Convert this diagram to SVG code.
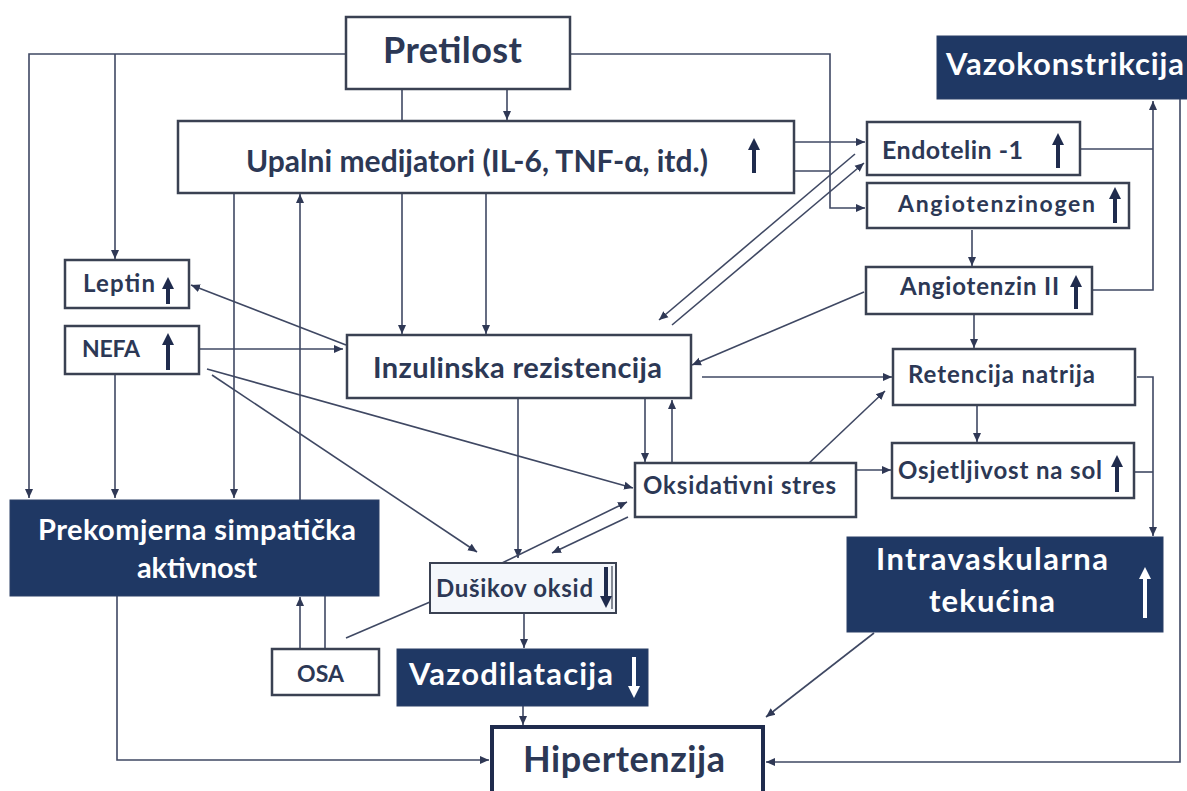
<svg xmlns="http://www.w3.org/2000/svg" width="1187" height="791" viewBox="0 0 1187 791">
<style>
.box{fill:#ffffff;stroke:#3a4152;stroke-width:2.5}
.dark{fill:#1f3864;stroke:#2a3f66;stroke-width:1}
.t{font-family:Lato,"Liberation Sans",sans-serif;font-weight:bold;fill:#2c3855}
.w{font-family:Lato,"Liberation Sans",sans-serif;font-weight:bold;fill:#ffffff}
.c{fill:none;stroke:#3f4863;stroke-width:1.6}
.a{marker-end:url(#ah)}
.up{stroke:#1f2b4d;stroke-width:4;fill:none;marker-end:url(#big)}
.upw{stroke:#ffffff;stroke-width:4;fill:none;marker-end:url(#bigw)}
</style>
<defs>
<marker id="ah" markerUnits="userSpaceOnUse" markerWidth="10" markerHeight="10" refX="9" refY="5" orient="auto"><path d="M0,1 L9,5 L0,9 Z" fill="#2f3855"/></marker>
<marker id="big" markerUnits="userSpaceOnUse" markerWidth="14" markerHeight="14" refX="4" refY="7" orient="auto"><path d="M0,1 L12,7 L0,13 Z" fill="#1f2b4d"/></marker>
<marker id="bigw" markerUnits="userSpaceOnUse" markerWidth="14" markerHeight="14" refX="4" refY="7" orient="auto"><path d="M0,1 L12,7 L0,13 Z" fill="#ffffff"/></marker>
</defs>
<rect width="1187" height="791" fill="#ffffff"/>

<g id="connectors">
<path class="c a" d="M346,54 H29 V498"/>
<path class="c a" d="M115,54 V259"/>
<path class="c a" d="M570,54 H830 V208 H865"/>
<path class="c" d="M402,89 V121"/>
<path class="c a" d="M507,89 V120"/>
<path class="c a" d="M794,142 H865"/>
<path class="c" d="M794,171 H830"/>
<path class="c a" d="M234,193 V498"/>
<path class="c a" d="M300,500 V194"/>
<path class="c a" d="M402,193 V334"/>
<path class="c a" d="M486,193 V334"/>
<path class="c a" d="M346,345 L191,285"/>
<path class="c a" d="M199,349 H343"/>
<path class="c a" d="M207,369 L633,488"/>
<path class="c a" d="M212,375 L477,552"/>
<path class="c a" d="M115,374 V498"/>
<path class="c a" d="M672,325 L864,163"/>
<path class="c a" d="M855,154 L659,320"/>
<path class="c a" d="M864,292 L692,365"/>
<path class="c a" d="M702,377 H892"/>
<path class="c a" d="M645,399 V462"/>
<path class="c a" d="M672,463 V400"/>
<path class="c a" d="M518,399 V558"/>
<path class="c a" d="M502,563 L627,502"/>
<path class="c a" d="M628,517 L552,553"/>
<path class="c a" d="M809,463 L885,391"/>
<path class="c a" d="M856,470 H891"/>
<path class="c a" d="M972,230 V266"/>
<path class="c a" d="M974,314 V348"/>
<path class="c a" d="M977,405 V442"/>
<path class="c a" d="M1092,290 H1153 V101"/>
<path class="c" d="M1080,149 H1153"/>
<path class="c a" d="M1137,377 H1153 V536"/>
<path class="c" d="M1134,472 H1153"/>
<path class="c a" d="M1180,99 V762 H766"/>
<path class="c a" d="M874,633 L766,717"/>
<path class="c a" d="M117,596 V760 H489"/>
<path class="c a" d="M523,706 V725"/>
<path class="c a" d="M524,613 V648"/>
<path class="c a" d="M300,649 V597"/>
<path class="c" d="M325,649 V596"/>
<path class="c" d="M430,602 L346,638"/>
</g>

<g id="pretilost">
<rect class="box" x="346" y="17" width="224" height="72"/>
<text class="t" x="383" y="63" font-size="36" textLength="139">Pretilost</text>
</g>

<g id="upalni">
<rect class="box" x="178" y="121" width="616" height="72"/>
<text class="t" x="246" y="172" font-size="30" textLength="462">Upalni medijatori (IL-6, TNF-α, itd.)</text>
<path class="up" d="M754,173 V146"/>
</g>

<g id="endotelin">
<rect class="box" x="867" y="122" width="213" height="53"/>
<text class="t" x="882" y="159" font-size="25" textLength="141">Endotelin -1</text>
<path class="up" d="M1058,168 V141"/>
</g>

<g id="angiotenzinogen">
<rect class="box" x="867" y="183" width="262" height="45"/>
<text class="t" x="898" y="212" font-size="23" textLength="197">Angiotenzinogen</text>
<path class="up" d="M1115,223 V195"/>
</g>

<g id="vazokonstrikcija">
<rect class="dark" x="937" y="36" width="252" height="63"/>
<text class="w" x="946" y="75" font-size="31" textLength="238">Vazokonstrikcija</text>
</g>

<g id="angiotenzin2">
<rect class="box" x="866" y="267" width="226" height="47"/>
<text class="t" x="900" y="295" font-size="24" textLength="159">Angiotenzin II</text>
<path class="up" d="M1076,309 V283"/>
</g>

<g id="leptin">
<rect class="box" x="65" y="260" width="124" height="48"/>
<text class="t" x="83" y="292" font-size="24" textLength="72">Leptin</text>
<path class="up" d="M168,304 V285"/>
</g>

<g id="nefa">
<rect class="box" x="65" y="326" width="134" height="48"/>
<text class="t" x="82" y="357" font-size="23" textLength="58">NEFA</text>
<path class="up" d="M168,370 V341"/>
</g>

<g id="inzulinska">
<rect class="box" x="347" y="335" width="344" height="63"/>
<text class="t" x="373" y="378" font-size="29" textLength="289">Inzulinska rezistencija</text>
</g>

<g id="retencija">
<rect class="box" x="893" y="349" width="242" height="56"/>
<text class="t" x="908" y="383" font-size="24" textLength="187">Retencija natrija</text>
</g>

<g id="oksidativni">
<rect class="box" x="635" y="463" width="221" height="54"/>
<text class="t" x="643" y="494" font-size="24" textLength="193">Oksidativni stres</text>
</g>

<g id="osjetljivost">
<rect class="box" x="892" y="443" width="242" height="55"/>
<text class="t" x="898" y="479" font-size="24" textLength="204">Osjetljivost na sol</text>
<path class="up" d="M1117,492 V463"/>
</g>

<g id="prekomjerna">
<rect class="dark" x="10" y="500" width="369" height="96"/>
<text class="w" x="38" y="540" font-size="29" textLength="318">Prekomjerna simpatička</text>
<text class="w" x="137" y="578" font-size="29" textLength="120">aktivnost</text>
</g>

<g id="dusikov">
<rect class="box" x="430" y="563" width="186" height="50" style="fill:#f4f7fb;stroke-width:2"/>
<text class="t" x="436" y="597" font-size="24" textLength="157">Dušikov oksid</text>
<path d="M612,566 V609" stroke="#3a4152" stroke-width="1.2"/>
<path class="up" d="M606,567 V600"/>
</g>

<g id="osa">
<rect class="box" x="272" y="649" width="107" height="46"/>
<text class="t" x="297" y="682" font-size="23" textLength="47">OSA</text>
</g>

<g id="vazodilatacija">
<rect class="dark" x="397" y="649" width="251" height="57"/>
<text class="w" x="409" y="685" font-size="31" textLength="204">Vazodilatacija</text>
<path class="upw" d="M634,657 V690"/>
</g>

<g id="intravaskularna">
<rect class="dark" x="847" y="537" width="316" height="95"/>
<text class="w" x="876" y="570" font-size="31" textLength="232">Intravaskularna</text>
<text class="w" x="929" y="612" font-size="31" textLength="126">tekućina</text>
<path class="upw" d="M1145,618 V575"/>
</g>

<g id="hipertenzija">
<rect x="492" y="727" width="271" height="80" fill="#ffffff" stroke="#1f2b4d" stroke-width="4"/>
<text class="t" x="523" y="772" font-size="36" textLength="202">Hipertenzija</text>
</g>
</svg>
